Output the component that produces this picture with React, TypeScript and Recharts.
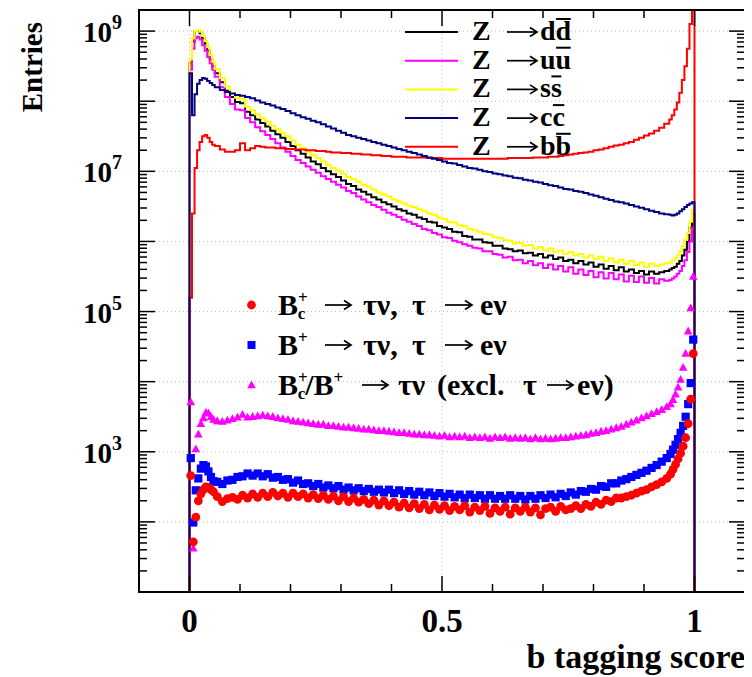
import React from 'react';
import { ComposedChart, Line, Scatter, XAxis, YAxis, CartesianGrid } from 'recharts';

// ---------- data ----------
// histogram bin edges (b tagging score)
const binEdges = [
  0, 0.005, 0.01, 0.015, 0.02, 0.025, 0.03, 0.035, 0.04, 0.045, 0.05,
  0.06, 0.07, 0.08, 0.09, 0.1, 0.11, 0.12, 0.13, 0.14, 0.15,
  0.16, 0.17, 0.18, 0.19, 0.2, 0.21, 0.22, 0.23, 0.24, 0.25,
  0.26, 0.27, 0.28, 0.29, 0.3, 0.31, 0.32, 0.33, 0.34, 0.35,
  0.36, 0.37, 0.38, 0.39, 0.4, 0.41, 0.42, 0.43, 0.44, 0.45,
  0.46, 0.47, 0.48, 0.49, 0.5, 0.51, 0.52, 0.53, 0.54, 0.55,
  0.56, 0.57, 0.58, 0.59, 0.6, 0.61, 0.62, 0.63, 0.64, 0.65,
  0.66, 0.67, 0.68, 0.69, 0.7, 0.71, 0.72, 0.73, 0.74, 0.75,
  0.76, 0.77, 0.78, 0.79, 0.8, 0.81, 0.82, 0.83, 0.84, 0.85,
  0.86, 0.87, 0.88, 0.89, 0.9, 0.91, 0.92, 0.93, 0.94, 0.95,
  0.955, 0.96, 0.965, 0.97, 0.975, 0.98, 0.985, 0.99, 0.995, 1.0,
];

const zToDD = [
  3.55e8, 7.08e8, 1.0e9, 1.0e9, 9.33e8, 7.94e8, 6.61e8, 5.25e8, 3.98e8, 3.16e8,
  2.51e8, 1.86e8, 1.41e8, 1.15e8, 9.77e7, 9.33e7, 7.08e7, 6.31e7, 5.5e7, 4.9e7,
  4.37e7, 3.8e7, 3.39e7, 3.02e7, 2.63e7, 2.29e7, 2.0e7, 1.78e7, 1.58e7, 1.38e7,
  1.26e7, 1.12e7, 1.0e7, 9.12e6, 8.32e6, 7.41e6, 6.61e6, 6.17e6, 5.5e6, 5.13e6,
  4.68e6, 4.27e6, 3.98e6, 3.63e6, 3.39e6, 3.16e6, 2.88e6, 2.75e6, 2.51e6, 2.4e6,
  2.19e6, 2.09e6, 1.91e6, 1.86e6, 1.66e6, 1.58e6, 1.51e6, 1.38e6, 1.35e6, 1.2e6,
  1.17e6, 1.07e6, 1.07e6, 9.77e5, 9.55e5, 8.71e5, 8.71e5, 7.94e5, 7.76e5, 7.24e5,
  7.41e5, 6.76e5, 6.92e5, 6.31e5, 6.61e5, 5.89e5, 6.31e5, 5.62e5, 5.89e5, 5.25e5,
  5.5e5, 4.9e5, 5.25e5, 4.68e5, 5.0e5, 4.37e5, 4.68e5, 4.07e5, 4.47e5, 3.89e5,
  4.27e5, 3.72e5, 3.98e5, 3.55e5, 3.8e5, 3.39e5, 3.72e5, 3.47e5, 3.63e5, 3.8e5,
  3.98e5, 4.17e5, 4.37e5, 4.79e5, 5.25e5, 6.31e5, 7.59e5, 1.0e6, 1.58e6, 2.51e6,
];

const zToUU = [
  2.82e8, 5.62e8, 7.94e8, 8.32e8, 7.59e8, 6.31e8, 5.25e8, 4.27e8, 3.47e8, 2.82e8,
  2.24e8, 1.58e8, 1.15e8, 9.12e7, 7.59e7, 7.41e7, 5.75e7, 5.0e7, 4.27e7, 3.72e7,
  3.31e7, 2.88e7, 2.51e7, 2.19e7, 1.91e7, 1.66e7, 1.45e7, 1.32e7, 1.17e7, 1.05e7,
  9.55e6, 8.51e6, 7.76e6, 7.08e6, 6.46e6, 5.89e6, 5.25e6, 4.9e6, 4.37e6, 3.98e6,
  3.63e6, 3.31e6, 3.09e6, 2.82e6, 2.57e6, 2.4e6, 2.24e6, 2.04e6, 1.91e6, 1.78e6,
  1.66e6, 1.51e6, 1.45e6, 1.32e6, 1.26e6, 1.15e6, 1.12e6, 1.02e6, 9.77e5, 9.12e5,
  8.71e5, 8.13e5, 7.94e5, 7.24e5, 7.24e5, 6.61e5, 6.46e5, 5.89e5, 6.03e5, 5.37e5,
  5.5e5, 4.9e5, 5.25e5, 4.57e5, 4.9e5, 4.17e5, 4.68e5, 3.98e5, 4.47e5, 3.72e5,
  4.27e5, 3.47e5, 3.98e5, 3.31e5, 3.8e5, 3.09e5, 3.63e5, 2.95e5, 3.55e5, 2.88e5,
  3.39e5, 2.69e5, 3.24e5, 2.63e5, 3.16e5, 2.57e5, 3.02e5, 2.51e5, 2.88e5, 2.75e5,
  2.82e5, 2.95e5, 3.16e5, 3.47e5, 3.8e5, 4.47e5, 5.37e5, 7.08e5, 1.0e6, 1.58e6,
];

const zToSS = [
  3.98e8, 7.94e8, 1.0e9, 1.02e9, 9.77e8, 8.51e8, 7.24e8, 5.89e8, 4.57e8, 3.63e8,
  2.88e8, 2.14e8, 1.62e8, 1.32e8, 1.12e8, 1.07e8, 8.32e7, 7.41e7, 6.46e7, 5.75e7,
  5.13e7, 4.47e7, 3.98e7, 3.55e7, 3.16e7, 2.75e7, 2.4e7, 2.14e7, 1.91e7, 1.7e7,
  1.55e7, 1.38e7, 1.23e7, 1.12e7, 1.02e7, 9.33e6, 8.32e6, 7.76e6, 7.08e6, 6.46e6,
  6.03e6, 5.5e6, 5.0e6, 4.68e6, 4.37e6, 3.98e6, 3.72e6, 3.47e6, 3.24e6, 3.09e6,
  2.88e6, 2.69e6, 2.51e6, 2.4e6, 2.19e6, 2.09e6, 1.91e6, 1.86e6, 1.7e6, 1.66e6,
  1.51e6, 1.45e6, 1.38e6, 1.29e6, 1.26e6, 1.15e6, 1.12e6, 1.05e6, 1.02e6, 9.33e5,
  9.55e5, 8.71e5, 8.91e5, 7.94e5, 8.32e5, 7.41e5, 7.94e5, 7.08e5, 7.41e5, 6.61e5,
  7.08e5, 6.31e5, 6.61e5, 5.89e5, 6.31e5, 5.62e5, 6.03e5, 5.25e5, 5.75e5, 5.0e5,
  5.5e5, 4.79e5, 5.25e5, 4.57e5, 5.0e5, 4.37e5, 4.79e5, 4.47e5, 4.68e5, 4.9e5,
  5.0e5, 5.37e5, 5.75e5, 6.31e5, 7.24e5, 8.51e5, 1.05e6, 1.32e6, 1.91e6, 2.82e6,
];

const zToCC = [
  2.51e8, 6.31e7, 1.26e8, 1.78e8, 2.0e8, 2.14e8, 2.09e8, 1.95e8, 1.82e8, 1.7e8,
  1.58e8, 1.45e8, 1.35e8, 1.29e8, 1.23e8, 1.2e8, 1.15e8, 1.1e8, 1.02e8, 9.55e7,
  9.12e7, 8.71e7, 8.13e7, 7.76e7, 7.24e7, 6.76e7, 6.31e7, 5.89e7, 5.62e7, 5.25e7,
  5.0e7, 4.68e7, 4.37e7, 4.07e7, 3.8e7, 3.55e7, 3.31e7, 3.16e7, 3.02e7, 2.88e7,
  2.75e7, 2.63e7, 2.51e7, 2.4e7, 2.29e7, 2.19e7, 2.09e7, 2.0e7, 1.91e7, 1.82e7,
  1.74e7, 1.66e7, 1.58e7, 1.51e7, 1.45e7, 1.38e7, 1.32e7, 1.29e7, 1.23e7, 1.17e7,
  1.12e7, 1.1e7, 1.05e7, 1.0e7, 9.77e6, 9.33e6, 9.12e6, 8.71e6, 8.51e6, 8.13e6,
  7.94e6, 7.59e6, 7.41e6, 7.08e6, 6.92e6, 6.61e6, 6.31e6, 6.17e6, 5.89e6, 5.62e6,
  5.5e6, 5.25e6, 5.13e6, 4.9e6, 4.68e6, 4.47e6, 4.27e6, 4.07e6, 3.89e6, 3.72e6,
  3.63e6, 3.47e6, 3.31e6, 3.16e6, 3.02e6, 2.88e6, 2.75e6, 2.63e6, 2.51e6, 2.45e6,
  2.4e6, 2.34e6, 2.4e6, 2.51e6, 2.69e6, 2.88e6, 3.09e6, 3.31e6, 3.47e6, 3.63e6,
];

const zToBB = [
  1.58e5, 2.51e6, 1.12e7, 2.0e7, 2.63e7, 3.16e7, 3.31e7, 3.02e7, 2.63e7, 2.4e7,
  2.29e7, 2.04e7, 1.91e7, 1.91e7, 2.0e7, 2.51e7, 2.0e7, 2.14e7, 2.29e7, 2.24e7,
  2.19e7, 2.19e7, 2.14e7, 2.14e7, 2.09e7, 2.09e7, 2.04e7, 2.04e7, 2.0e7, 2.0e7,
  1.95e7, 1.95e7, 1.91e7, 1.86e7, 1.86e7, 1.82e7, 1.82e7, 1.78e7, 1.78e7, 1.74e7,
  1.74e7, 1.7e7, 1.7e7, 1.66e7, 1.66e7, 1.62e7, 1.62e7, 1.62e7, 1.58e7, 1.58e7,
  1.58e7, 1.58e7, 1.55e7, 1.55e7, 1.55e7, 1.51e7, 1.51e7, 1.51e7, 1.51e7, 1.51e7,
  1.51e7, 1.51e7, 1.51e7, 1.51e7, 1.51e7, 1.51e7, 1.51e7, 1.51e7, 1.55e7, 1.55e7,
  1.55e7, 1.55e7, 1.55e7, 1.58e7, 1.58e7, 1.58e7, 1.62e7, 1.62e7, 1.66e7, 1.7e7,
  1.74e7, 1.78e7, 1.82e7, 1.86e7, 1.91e7, 2.0e7, 2.04e7, 2.14e7, 2.24e7, 2.34e7,
  2.4e7, 2.51e7, 2.63e7, 2.82e7, 3.02e7, 3.24e7, 3.47e7, 3.8e7, 4.17e7, 4.79e7,
  5.5e7, 6.31e7, 7.59e7, 9.55e7, 1.32e8, 2.0e8, 3.16e8, 5.62e8, 1.26e9, 3.16e10,
];

// signal samples (markers at bin centres)
const bcTauNuENu = [
  457, 52, 117, 200, 251, 288, 316, 309, 288, 269,
  229, 195, 214, 224, 209, 240, 219, 251, 224, 257,
  229, 263, 234, 257, 224, 257, 229, 251, 219, 245,
  214, 240, 209, 234, 200, 229, 195, 219, 191, 209,
  182, 204, 174, 200, 170, 191, 162, 186, 158, 182,
  155, 178, 148, 174, 151, 170, 145, 166, 148, 170,
  138, 162, 145, 166, 132, 158, 141, 162, 129, 158,
  141, 162, 138, 158, 126, 155, 162, 141, 166, 148,
  155, 170, 155, 178, 166, 191, 178, 204, 195, 219,
  219, 229, 240, 257, 275, 288, 316, 339, 372, 417,
  479, 562, 661, 794, 955, 1202, 1585, 2512, 5623, 25119,
];

const bTauNuENu = [
  813, 98, 282, 417, 575, 646, 617, 525, 437, 380,
  372, 347, 389, 398, 437, 447, 490, 457, 490, 447,
  479, 427, 437, 398, 407, 363, 389, 347, 355, 324,
  347, 309, 331, 302, 324, 288, 309, 282, 302, 275,
  295, 269, 288, 263, 288, 257, 282, 251, 275, 245,
  269, 240, 263, 234, 257, 229, 251, 224, 245, 219,
  245, 219, 240, 214, 240, 214, 234, 214, 240, 214,
  234, 209, 234, 214, 240, 219, 245, 224, 251, 234,
  263, 245, 275, 269, 295, 288, 324, 316, 355, 355,
  389, 407, 437, 468, 501, 537, 589, 646, 724, 813,
  933, 1072, 1259, 1514, 1862, 2344, 3162, 4786, 9550, 39811,
];

const bcbTauNuOther = [
  5129, 42, 1096, 1778, 2512, 3020, 3631, 3548, 3162, 2884,
  2754, 2692, 2818, 2951, 3090, 3388, 3090, 3162, 3236, 3311,
  3236, 3162, 3020, 2951, 2884, 2754, 2692, 2630, 2570, 2512,
  2455, 2455, 2344, 2344, 2291, 2239, 2239, 2188, 2138, 2089,
  2089, 2042, 1995, 1995, 1950, 1905, 1862, 1862, 1820, 1778,
  1778, 1738, 1738, 1698, 1660, 1698, 1622, 1660, 1622, 1660,
  1585, 1622, 1585, 1622, 1549, 1622, 1585, 1622, 1549, 1585,
  1549, 1585, 1514, 1585, 1514, 1549, 1514, 1549, 1585, 1585,
  1622, 1660, 1698, 1738, 1820, 1862, 1950, 1995, 2089, 2188,
  2291, 2455, 2630, 2818, 3020, 3236, 3467, 3715, 3981, 4365,
  4786, 5495, 6607, 8318, 10715, 15849, 25119, 52481, 112202, 316228,
];

const xRange = [-0.1, 1.1];
const yRange = [10, 2e9];
const emptyBinValue = 1; // empty bins (outside 0..1), below the axis floor
const xTickValues = [0, 0.1, 0.2, 0.3, 0.4, 0.5, 0.6, 0.7, 0.8, 0.9, 1];
const xMajorTicks = [0, 0.5, 1];
const xTickLabels = ['0', '0.5', '1'];
const yDecades = [10, 100, 1e3, 1e4, 1e5, 1e6, 1e7, 1e8, 1e9];
const yLabelledDecades = [1e3, 1e5, 1e7, 1e9];
const yLabelExponents = ['3', '5', '7', '9'];
const gridXValues = [0, 0.5, 1];
const gridYValues = [100, 1e3, 1e4, 1e5, 1e6, 1e7, 1e8, 1e9];

// ---------- layout ----------
const W = 744;
const H = 669;
const PLOT_LEFT = 131;
const PLOT_TOP = 2;
const PLOT_W = 606;
const PLOT_H = 582;
const PLOT_BOTTOM = PLOT_TOP + PLOT_H;
const FONT = '"Liberation Serif", "Times New Roman", serif';

const yTicks: number[] = [];
yDecades.forEach((d) => {
  for (let m = 1; m <= 9; m++) {
    const v = m * d;
    if (v <= yRange[1] && (m === 1 || d < 1e9)) yTicks.push(v);
  }
});

function histPoints(vals: number[]) {
  const pts = [{ x: xRange[0], y: emptyBinValue }];
  vals.forEach((v, i) => pts.push({ x: binEdges[i], y: v }));
  pts.push({ x: binEdges[vals.length], y: emptyBinValue });
  pts.push({ x: xRange[1], y: emptyBinValue });
  return pts;
}

function markerPoints(vals: number[]) {
  return vals.map((v, i) => ({ x: (binEdges[i] + binEdges[i + 1]) / 2, y: v }));
}

const lineSeries = [
  { key: 'dd', q: 'd', qw: 15.6, vals: zToDD, color: '#000000' },
  { key: 'uu', q: 'u', qw: 15.6, vals: zToUU, color: '#ff00ff' },
  { key: 'ss', q: 's', qw: 10.9, vals: zToSS, color: '#ffff00' },
  { key: 'cc', q: 'c', qw: 12.4, vals: zToCC, color: '#000080' },
  { key: 'bb', q: 'b', qw: 15.6, vals: zToBB, color: '#ff0000' },
];
const drawOrder = ['dd', 'uu', 'ss', 'bb', 'cc'];

const XTick = (props: any) => {
  const { x, payload } = props;
  const v = payload.value;
  const mi = xMajorTicks.indexOf(v);
  const len = mi >= 0 ? 16 : 8;
  return (
    <g>
      <line x1={x} x2={x} y1={PLOT_BOTTOM} y2={PLOT_BOTTOM - len} stroke="#000" strokeWidth={1.5} />
      <line x1={x} x2={x} y1={PLOT_TOP} y2={PLOT_TOP + len} stroke="#000" strokeWidth={1.5} />
      {mi >= 0 && (
        <text x={x} y={PLOT_BOTTOM + 40} textAnchor="middle" fontFamily={FONT} fontWeight="bold" fontSize={33} fill="#000">
          {xTickLabels[mi]}
        </text>
      )}
    </g>
  );
};

const YTick = (props: any) => {
  const { y, payload } = props;
  const v = payload.value;
  const major = yDecades.indexOf(v) >= 0;
  const li = yLabelledDecades.indexOf(v);
  const len = major ? 16 : 8;
  const right = PLOT_LEFT + PLOT_W;
  return (
    <g>
      <line x1={PLOT_LEFT} x2={PLOT_LEFT + len} y1={y} y2={y} stroke="#000" strokeWidth={1.5} />
      <line x1={right} x2={right - len} y1={y} y2={y} stroke="#000" strokeWidth={1.5} />
      {li >= 0 && (
        <text x={PLOT_LEFT - 17} y={y + 11} textAnchor="end" fontFamily={FONT} fontWeight="bold" fontSize={29} fill="#000">
          10
          <tspan dy={-13} fontSize={20}>{yLabelExponents[li]}</tspan>
        </text>
      )}
    </g>
  );
};

const Circle = (p: any) => <circle cx={p.cx} cy={p.cy} r={4.4} fill="#ff0000" />;
const Square = (p: any) => <rect x={p.cx - 4.1} y={p.cy - 4.1} width={8.2} height={8.2} fill="#0000ff" />;
const Triangle = (p: any) => (
  <polygon points={`${p.cx},${p.cy - 4.6} ${p.cx - 4.3},${p.cy + 3.2} ${p.cx + 4.3},${p.cy + 3.2}`} fill="#ff00ff" />
);

const txt = { fontFamily: FONT, fontWeight: 'bold' as const, fill: '#000' };

function Arrow({ x0, x1, y }: { x0: number; x1: number; y: number }) {
  return (
    <g stroke="#000" strokeWidth={1.7} fill="none">
      <line x1={x0} x2={x1} y1={y} y2={y} />
      <polyline points={`${x1 - 7},${y - 4.5} ${x1},${y} ${x1 - 7},${y + 4.5}`} />
    </g>
  );
}

function SignalLegend() {
  const rows = [297, 337, 377];
  const b1 = rows[0] + 10;
  const b2 = rows[1] + 10;
  const b3 = rows[2] + 10;
  const mx = 243.5;
  return (
    <g>
      <circle cx={mx} cy={rows[0]} r={4.4} fill="#ff0000" />
      <rect x={mx - 4} y={rows[1] - 4} width={8} height={8} fill="#0000ff" />
      <polygon points={`${mx},${rows[2] - 4.6} ${mx - 4.3},${rows[2] + 3.2} ${mx + 4.3},${rows[2] + 3.2}`} fill="#ff00ff" />

      <text x={270} y={b1} fontSize={30} {...txt}>
        B<tspan dy={-12} fontSize={17}>+</tspan>
        <tspan dx={-10} dy={16} fontSize={17}>c</tspan>
      </text>
      <Arrow x0={317} x1={343} y={rows[0]} />
      <text x={355} y={b1} fontSize={30} {...txt}>τν,</text>
      <text x={404} y={b1} fontSize={30} {...txt}>τ</text>
      <Arrow x0={437} x1={464} y={rows[0]} />
      <text x={472} y={b1} fontSize={30} {...txt}>eν</text>

      <text x={270} y={b2} fontSize={30} {...txt}>
        B<tspan dy={-12} fontSize={17}>+</tspan>
      </text>
      <Arrow x0={317} x1={343} y={rows[1]} />
      <text x={355} y={b2} fontSize={30} {...txt}>τν,</text>
      <text x={404} y={b2} fontSize={30} {...txt}>τ</text>
      <Arrow x0={437} x1={464} y={rows[1]} />
      <text x={472} y={b2} fontSize={30} {...txt}>eν</text>

      <text x={270} y={b3} fontSize={30} {...txt}>
        B<tspan dy={-12} fontSize={17}>+</tspan>
        <tspan dx={-10} dy={16} fontSize={17}>c</tspan>
        <tspan dy={-4} fontSize={30}>/B</tspan>
        <tspan dy={-12} fontSize={17}>+</tspan>
      </text>
      <Arrow x0={354} x1={380} y={rows[2]} />
      <text x={390} y={b3} fontSize={30} {...txt}>τν</text>
      <text x={429} y={b3} fontSize={30} {...txt}>(excl.</text>
      <text x={515} y={b3} fontSize={30} {...txt}>τ</text>
      <Arrow x0={539} x1={565} y={rows[2]} />
      <text x={569} y={b3} fontSize={30} {...txt}>eν)</text>
    </g>
  );
}

function BackgroundLegend() {
  return (
    <g>
      {lineSeries.map((s, i) => {
        const y = 24 + i * 28.7;
        const bx = 532 + s.qw;
        return (
          <g key={s.key}>
            <line x1={397} x2={450} y1={y} y2={y} stroke={s.color} strokeWidth={2} />
            <text x={464} y={y + 8} fontSize={28} {...txt}>Z</text>
            <Arrow x0={499} x1={529} y={y} />
            <text x={532} y={y + 8} fontSize={28} {...txt}>{s.q + s.q}</text>
            <line x1={bx + 0.5} x2={bx + s.qw - 0.5} y1={y - 13} y2={y - 13} stroke="#000" strokeWidth={2} />
          </g>
        );
      })}
    </g>
  );
}

export default function App() {
  return (
    <div style={{ position: 'relative', width: W, height: H, background: '#fff' }}>
      <ComposedChart width={W} height={H} margin={{ top: PLOT_TOP, right: W - PLOT_LEFT - PLOT_W, bottom: 25, left: PLOT_LEFT - 60 }}>
        <CartesianGrid
          stroke="#bdbdbd"
          strokeDasharray="1 3"
          horizontalValues={gridYValues}
          verticalValues={gridXValues}
        />
        <XAxis
          type="number"
          dataKey="x"
          domain={xRange}
          allowDataOverflow
          ticks={xTickValues}
          interval={0}
          tick={(p: any) => <XTick {...p} />}
          tickLine={false}
          axisLine={false}
          tickSize={0}
          height={H - PLOT_BOTTOM - 25}
        />
        <YAxis
          type="number"
          dataKey="y"
          scale="log"
          domain={yRange}
          allowDataOverflow
          ticks={yTicks}
          interval={0}
          tick={(p: any) => <YTick {...p} />}
          tickLine={false}
          axisLine={false}
          tickSize={0}
          width={60}
        />
        {drawOrder.map((k) => {
          const s = lineSeries.find((l) => l.key === k)!;
          return (
            <Line
              key={k}
              data={histPoints(s.vals)}
              dataKey="y"
              type="stepAfter"
              stroke={s.color}
              strokeWidth={2}
              dot={false}
              activeDot={false}
              isAnimationActive={false}
            />
          );
        })}
        <Scatter data={markerPoints(bcbTauNuOther)} shape={Triangle} isAnimationActive={false} />
        <Scatter data={markerPoints(bTauNuENu)} shape={Square} isAnimationActive={false} />
        <Scatter data={markerPoints(bcTauNuENu)} shape={Circle} isAnimationActive={false} />
      </ComposedChart>
      <svg width={W} height={H} style={{ position: 'absolute', left: 0, top: 0, pointerEvents: 'none' }}>
        <rect x={PLOT_LEFT} y={PLOT_TOP} width={PLOT_W} height={PLOT_H} fill="none" stroke="#000" strokeWidth={2} />
        <text transform="rotate(-90)" x={-14} y={34} textAnchor="end" fontSize={29} {...txt}>Entries</text>
        <text x={737} y={660} textAnchor="end" fontSize={34} {...txt}>b tagging score</text>
        <BackgroundLegend />
        <SignalLegend />
      </svg>
    </div>
  );
}
